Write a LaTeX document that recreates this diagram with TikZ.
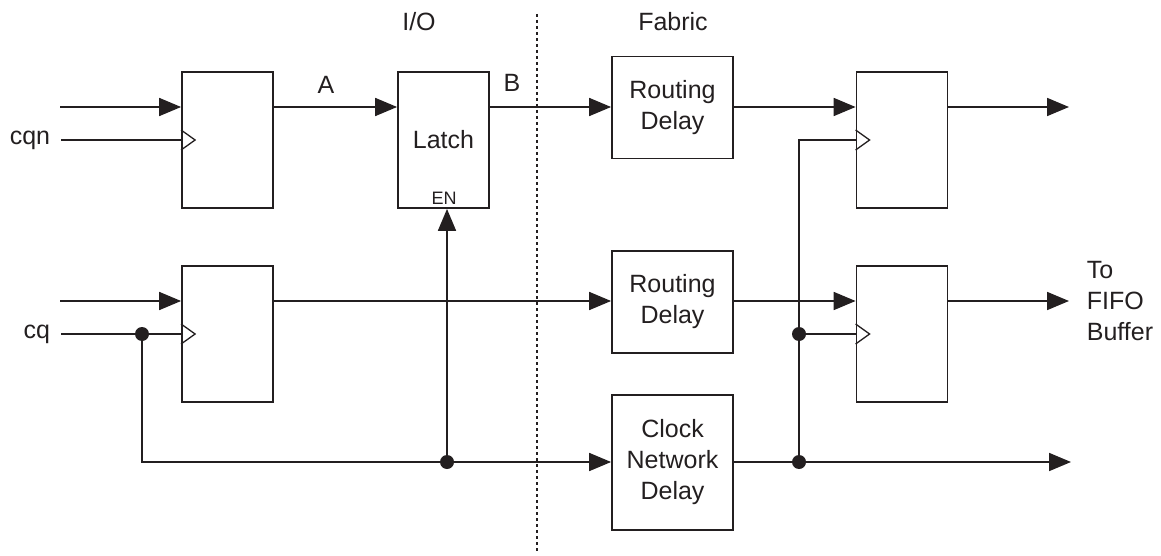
\documentclass[tikz,border=0pt]{standalone}
\usepackage{fontspec}
\setmainfont{Liberation Sans}
\usetikzlibrary{arrows.meta,calc}
\definecolor{ink}{HTML}{231F20}
\newcommand\lbl{\fontsize{25}{31}\selectfont}
\newcommand\smalllbl{\fontsize{18}{20}\selectfont}
\newcommand\clkmark[1]{\draw[line width=1.3pt] ($(#1)+(0,-10)$) -- ++(14,10) -- ++(-14,10);}
\begin{document}
\begin{tikzpicture}[x=1pt,y=-1pt, line width=1.8pt, color=ink,
  box/.style={draw=ink, rectangle, inner sep=0pt, line width=1.8pt},
  ffbox/.style={box, minimum width=91pt, minimum height=136pt},
  dlybox/.style={box, minimum width=121pt, minimum height=102pt, align=center, font=\lbl},
  arr/.style={-{Triangle[length=22pt,width=18pt]}},
  jdot/.style={circle, fill=ink, draw=none, inner sep=0pt, minimum size=14pt},
  txt/.style={font=\lbl, inner sep=0pt, text=ink},
  sepline/.style={line width=1.6pt, dash pattern=on 3pt off 3pt}
  ]
\useasboundingbox (0,0) rectangle (1161,556);

% coordinates
\coordinate (d1) at (60,107);
\coordinate (d2) at (60,301);
\coordinate (c1) at (61,140);
\coordinate (c2) at (61,334);
\coordinate (j1) at (142,334);
\coordinate (j2) at (142,462);
\coordinate (j3) at (447,462);
\coordinate (j4) at (799,462);
\coordinate (j5) at (799,334);
\coordinate (j6) at (799,140);
\coordinate (o3) at (1069,107);
\coordinate (o4) at (1069,301);
\coordinate (o5) at (1071,462);
\coordinate (dtop) at (537,14);
\coordinate (dbot) at (537,552);

% separator
\draw[sepline] (dtop) -- (dbot);

% nodes
\node[ffbox] (ff1) at (227.5,140) {};
\node[ffbox] (ff2) at (227.5,334) {};
\node[ffbox, font=\lbl] (latch) at (443.5,140) {Latch};
\node[txt, font=\smalllbl] (en) at (444,198) {EN};
\node[dlybox] (rd1) at (672.5,107.5) {Routing\\Delay};
\node[dlybox] (rd2) at (672.5,302) {Routing\\Delay};
\node[dlybox, minimum height=135pt] (cnd) at (672.5,462.5) {Clock\\Network\\Delay};
\node[ffbox] (ff3) at (902,140) {};
\node[ffbox] (ff4) at (902,334) {};

% labels
\node[txt] (io) at (419,22) {I/O};
\node[txt] (fab) at (673,22) {Fabric};
\node[txt] (la) at (326,85) {A};
\node[txt] (lb) at (512,83) {B};
\node[txt, anchor=east] (lcqn) at (51,140) {cqn};
\node[txt, anchor=east] (lcq) at (51,334) {cq};
\node[txt, anchor=west, align=left] (fifo) at (1086,301) {To\\FIFO\\Buffer};

% clock marks
\coordinate (k1) at (ff1.west |- c1);
\coordinate (k2) at (ff2.west |- c2);
\coordinate (k3) at (ff3.west |- j6);
\coordinate (k4) at (ff4.west |- j5);
\clkmark{k1}
\clkmark{k2}
\clkmark{k3}
\clkmark{k4}

% top row
\draw[arr] (d1) -- (ff1.west |- d1);
\draw (c1) -- (k1);
\draw[arr] (ff1.east |- d1) -- (latch.west |- d1);
\draw[arr] (latch.east |- d1) -- (rd1.west |- d1);
\draw[arr] (rd1.east |- d1) -- (ff3.west |- d1);
\draw[arr] (ff3.east |- d1) -- (o3);

% middle row
\draw[arr] (d2) -- (ff2.west |- d2);
\draw (c2) -- (k2);
\draw[arr] (ff2.east |- d2) -- (rd2.west |- d2);
\draw[arr] (rd2.east |- d2) -- (ff4.west |- d2);
\draw[arr] (ff4.east |- d2) -- (o4);

% clock network
\draw[arr] (j1) -- (j2) -- (cnd.west |- j2);
\draw[arr] (j3) -- (j3 |- latch.south);
\draw[arr] (cnd.east |- j2) -- (o5);
\draw (j4) -- (j6) -- (k3);
\draw (j5) -- (k4);

% junction dots
\node[jdot] at (j1) {};
\node[jdot] at (j3) {};
\node[jdot] at (j4) {};
\node[jdot] at (j5) {};
\end{tikzpicture}
\end{document}
